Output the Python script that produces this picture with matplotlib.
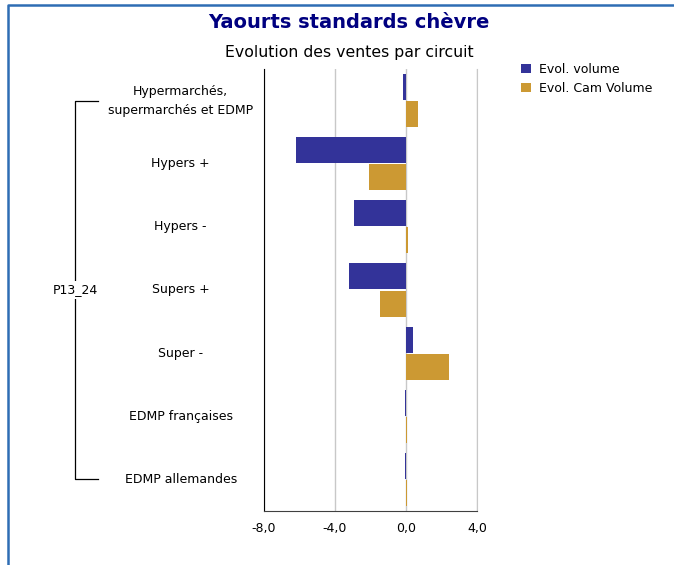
import matplotlib
matplotlib.use("Agg")
import matplotlib.pyplot as plt
import numpy as np
from matplotlib.patches import Patch
from matplotlib.lines import Line2D
from matplotlib.transforms import blended_transform_factory

# data
circuits = ["Hypermarchés,\nsupermarchés et EDMP", "Hypers +", "Hypers -",
            "Supers +", "Super -", "EDMP françaises", "EDMP allemandes"]
evol_volume = [-0.15, -6.2, -2.95, -3.2, 0.4, -0.05, -0.05]
evol_cam_volume = [0.7, -2.1, 0.1, -1.45, 2.45, 0.05, 0.05]
period_label = "P13_24"
x_ticks = [-8, -4, 0, 4]

BLUE = "#333399"
GOLD = "#CC9933"
GRID = "#C8C8C8"

plt.rcParams["font.family"] = ["DejaVu Sans"]

fig = plt.figure(figsize=(6.74, 5.65), dpi=100)
ax = fig.add_axes([264 / 674, 1 - 511 / 565, 213 / 674, 442 / 565])

y = np.arange(len(circuits))
h = 0.41
off = 0.215
ax.barh(y - off, evol_volume, height=h, color=BLUE, zorder=3)
ax.barh(y + off, evol_cam_volume, height=h, color=GOLD, zorder=3)

ax.set_xlim(-8, 4)
ax.set_ylim(len(circuits) - 0.5, -0.5)
ax.set_xticks(x_ticks)
ax.set_xticklabels([f"{v:.1f}".replace(".", ",") for v in x_ticks], fontsize=9)
ax.set_yticks(y)
ax.set_yticklabels(circuits, fontsize=9, ha="center", va="center",
                   multialignment="center", linespacing=1.6)
ax.tick_params(axis="y", length=0, pad=60)
ax.tick_params(axis="x", length=0, pad=8)
ax.grid(axis="x", color=GRID, linewidth=1, zorder=0)

ax.spines["top"].set_visible(False)
ax.spines["right"].set_color(GRID)
ax.spines["left"].set_color("black")
ax.spines["bottom"].set_color("#404040")

# bracket grouping the circuits under the period label
trans = blended_transform_factory(ax.transAxes, ax.transData)
bx, stub = -0.887, -0.779
ax.plot([stub, bx, bx, stub], [0, 0, len(circuits) - 1, len(circuits) - 1],
        color="black", linewidth=0.9, transform=trans, clip_on=False)
ax.text(bx, 3, period_label, transform=trans, fontsize=9, ha="center", va="center",
        bbox=dict(facecolor="white", edgecolor="none", pad=1.5))

fig.text(349 / 674, 1 - 22 / 565, "Yaourts standards chèvre", fontsize=14,
         fontweight="bold", color="#000080", ha="center", va="center")
fig.text(349 / 674, 1 - 52 / 565, "Evolution des ventes par circuit", fontsize=11.3,
         ha="center", va="center")

handles = [Patch(facecolor=BLUE, label="Evol. volume"),
           Patch(facecolor=GOLD, label="Evol. Cam Volume")]
fig.legend(handles=handles, loc="upper left", bbox_to_anchor=(516 / 674, 1 - 58 / 565),
           frameon=False, fontsize=9, handlelength=0.8, handleheight=0.8,
           handletextpad=0.65, labelspacing=0.45, borderaxespad=0)

# blue frame along the top and left edges
fig.add_artist(Line2D([8 / 674, 8 / 674, 1], [0, 1 - 5 / 565, 1 - 5 / 565],
                      color="#2E6DB4", linewidth=1.8, transform=fig.transFigure))

fig.savefig("out.png", dpi=100)
